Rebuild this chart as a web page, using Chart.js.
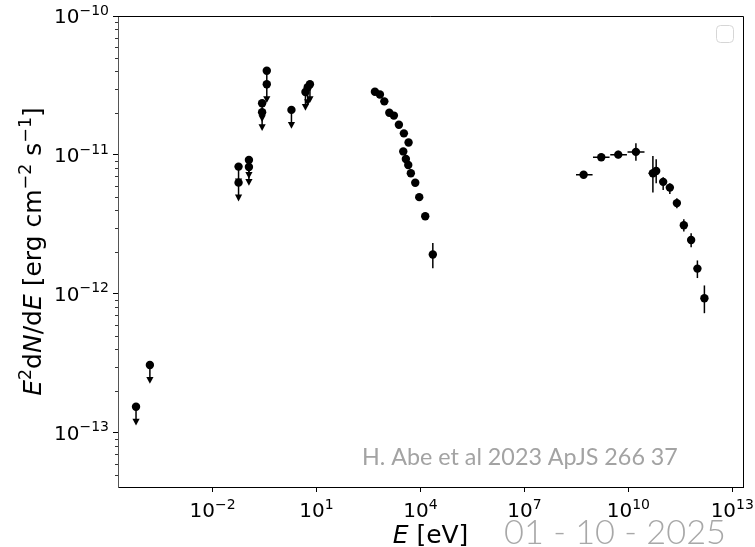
<!DOCTYPE html>
<html>
<head>
<meta charset="utf-8">
<script src="https://cdn.jsdelivr.net/npm/chart.js@4/dist/chart.umd.min.js"></script>
<style>
html,body{margin:0;padding:0;background:#fff;}
#wrap{width:755px;height:547px;}
</style>
</head>
<body>
<div id="wrap"><canvas id="c" width="755" height="547"></canvas></div>
<script>
// ---- data (E in eV, E^2 dN/dE in erg cm^-2 s^-1) ----
const ulEnergy = [6.17e-5, 1.55e-4, 0.0562, 0.0562, 0.112, 0.112, 0.269, 0.269, 0.367, 0.367, 1.89, 4.79, 5.57, 6.46];
const ulFlux   = [1.54e-13, 3.08e-13, 8.24e-12, 6.32e-12, 9.20e-12, 8.20e-12, 2.355e-11, 2.03e-11, 4.04e-11, 3.23e-11, 2.11e-11, 2.84e-11, 3.07e-11, 3.23e-11];
const ulArrowFactor = 0.78;

const xrayEnergy = [485, 676, 906, 1262, 1710, 2388, 3327, 4539, 3192, 3793, 4446, 5284, 7079, 9226, 13740, 22750];
const xrayFlux   = [2.85e-11, 2.72e-11, 2.43e-11, 2.01e-11, 1.92e-11, 1.65e-11, 1.43e-11, 1.23e-11, 1.06e-11, 9.35e-12, 8.47e-12, 7.38e-12, 6.30e-12, 4.97e-12, 3.62e-12, 1.92e-12];
const xrayFluxLo = [null, null, null, null, null, null, null, null, null, null, null, null, null, null, null, 1.53e-12];
const xrayFluxHi = [null, null, null, null, null, null, null, null, null, null, null, null, null, null, null, 2.32e-12];

const gammaEnergy   = [5.12e8, 1.656e9, 5.12e9, 1.656e10, 5.12e10, 6.37e10, 1.014e11, 1.58e11, 2.52e11, 4.0e11, 6.5e11, 9.86e11, 1.57e12];
const gammaEnergyLo = [3.09e8, 9.55e8, 3.01e9, 9.48e9, 3.82e10, null, null, null, null, null, null, null, null];
const gammaEnergyHi = [9.29e8, 2.87e9, 9.12e9, 2.93e10, 6.93e10, null, null, null, null, null, null, null, null];
const gammaFlux   = [7.21e-12, 9.62e-12, 1.005e-11, 1.052e-11, 7.38e-12, 7.67e-12, 6.40e-12, 5.82e-12, 4.50e-12, 3.12e-12, 2.44e-12, 1.52e-12, 9.31e-13];
const gammaFluxLo = [6.95e-12, 9.25e-12, 9.45e-12, 9.10e-12, 5.36e-12, 6.25e-12, 5.60e-12, 5.24e-12, 4.14e-12, 2.81e-12, 2.17e-12, 1.30e-12, 7.26e-13];
const gammaFluxHi = [7.45e-12, 9.95e-12, 1.07e-11, 1.213e-11, 9.84e-12, 9.31e-12, 6.92e-12, 6.25e-12, 4.88e-12, 3.44e-12, 2.73e-12, 1.74e-12, 1.15e-12];

const xTickValues = [1e-2, 1e1, 1e4, 1e7, 1e10, 1e13];
const yTickValues = [1e-13, 1e-12, 1e-11, 1e-10];
const xRange = [Math.pow(10, -4.73), Math.pow(10, 13.31)];
const yRange = [Math.pow(10, -13.39), 1e-10];

const xAxisTitle = [{t:'E', it:true}, {t:' [eV]'}];
const yAxisTitle = [{t:'E', it:true}, {t:'2', sup:true}, {t:'d'}, {t:'N', it:true}, {t:'/d'}, {t:'E', it:true},
                    {t:' [erg cm'}, {t:'\u22122', sup:true}, {t:' s'}, {t:'\u22121', sup:true}, {t:']'}];
const watermark = 'H. Abe et al 2023 ApJS 266 37';
const dateText = '01 - 10 - 2025';

// ---- helpers ----
const FONT = '"DejaVu Sans"';
function toPts(xs, ys){ return xs.map((x,i)=>({x:x, y:ys[i]})); }

function richWidth(ctx, segs, size){
  let w = 0;
  segs.forEach(s=>{
    const fs = s.sup ? size*0.7 : size;
    ctx.font = (s.it?'italic ':'') + fs + 'px ' + FONT;
    w += ctx.measureText(s.t).width;
  });
  return w;
}
function drawRich(ctx, segs, x, y, size, align){
  const w = richWidth(ctx, segs, size);
  let cx = align==='center' ? x - w/2 : (align==='right' ? x - w : x);
  ctx.textAlign = 'left';
  ctx.textBaseline = 'alphabetic';
  segs.forEach(s=>{
    const fs = s.sup ? size*0.7 : size;
    ctx.font = (s.it?'italic ':'') + fs + 'px ' + FONT;
    ctx.fillText(s.t, cx, s.sup ? y - size*0.42 : y);
    cx += ctx.measureText(s.t).width;
  });
}
function expSegs(v){
  const e = Math.round(Math.log10(v));
  return [{t:'10'}, {t:(e<0?'\u2212':'') + Math.abs(e), sup:true}];
}

const decorPlugin = {
  id:'decor',
  beforeDatasetsDraw(chart){
    const ctx = chart.ctx, xs = chart.scales.x, ys = chart.scales.y;
    ctx.save();
    ctx.strokeStyle = '#000';
    ctx.fillStyle = '#000';
    ctx.lineWidth = 1.5;
    // error bars
    function bars(E, F, El, Eh, Fl, Fh){
      E.forEach((e,i)=>{
        const px = xs.getPixelForValue(e), py = ys.getPixelForValue(F[i]);
        ctx.beginPath();
        if (Fl && Fl[i] != null){
          ctx.moveTo(px, ys.getPixelForValue(Fl[i])); ctx.lineTo(px, ys.getPixelForValue(Fh[i]));
        }
        if (El && El[i] != null){
          ctx.moveTo(xs.getPixelForValue(El[i]), py); ctx.lineTo(xs.getPixelForValue(Eh[i]), py);
        }
        ctx.stroke();
      });
    }
    bars(xrayEnergy, xrayFlux, null, null, xrayFluxLo, xrayFluxHi);
    bars(gammaEnergy, gammaFlux, gammaEnergyLo, gammaEnergyHi, gammaFluxLo, gammaFluxHi);
    // upper-limit arrows
    ulEnergy.forEach((e,i)=>{
      const px = xs.getPixelForValue(e);
      const py = ys.getPixelForValue(ulFlux[i]);
      const pe = ys.getPixelForValue(ulFlux[i]*ulArrowFactor);
      ctx.beginPath(); ctx.moveTo(px, py); ctx.lineTo(px, pe); ctx.stroke();
      ctx.beginPath();
      ctx.moveTo(px-3.6, pe-3); ctx.lineTo(px+3.6, pe-3); ctx.lineTo(px, pe+3.8); ctx.closePath(); ctx.fill();
    });
    ctx.restore();
  },
  afterDraw(chart){
    const ctx = chart.ctx, xs = chart.scales.x, ys = chart.scales.y, a = chart.chartArea;
    ctx.save();
    // top & right spines
    ctx.strokeStyle = '#000'; ctx.lineWidth = 1;
    ctx.beginPath();
    ctx.moveTo(a.left, a.top+0.5); ctx.lineTo(a.right+0.5, a.top+0.5); ctx.lineTo(a.right+0.5, a.bottom);
    ctx.stroke();
    // y minor ticks
    ctx.lineWidth = 0.8;
    for (let d=-14; d<=-10; d++){
      for (let m=2; m<=9; m++){
        const v = m*Math.pow(10,d);
        if (v < yRange[0] || v > yRange[1]) continue;
        const py = Math.round(ys.getPixelForValue(v)) + 0.5;
        ctx.beginPath(); ctx.moveTo(a.left-3, py); ctx.lineTo(a.left, py); ctx.stroke();
      }
    }
    // tick labels
    ctx.fillStyle = '#000';
    xs.ticks.forEach(t=>{
      const px = xs.getPixelForValue(t.value);
      drawRich(ctx, expSegs(t.value), px, 517, 20, 'center');
    });
    ys.ticks.forEach(t=>{
      const py = ys.getPixelForValue(t.value);
      drawRich(ctx, expSegs(t.value), a.left-9, py+7, 20, 'right');
    });
    // axis titles
    drawRich(ctx, xAxisTitle, (a.left+a.right)/2, 543, 25, 'center');
    ctx.save();
    ctx.translate(41, (a.top+a.bottom)/2);
    ctx.rotate(-Math.PI/2);
    drawRich(ctx, yAxisTitle, 0, 0, 25, 'center');
    ctx.restore();
    // empty legend frame
    ctx.strokeStyle = '#d6d6d6'; ctx.lineWidth = 1; ctx.fillStyle = 'rgba(255,255,255,0.8)';
    ctx.beginPath();
    ctx.roundRect(716.5, 25.5, 17, 17, 4);
    ctx.fill(); ctx.stroke();
    // watermark
    ctx.fillStyle = '#a3a3a3';
    ctx.textAlign = 'left'; ctx.textBaseline = 'alphabetic';
    let fs = 23;
    ctx.font = '400 ' + fs + 'px Lato';
    fs = fs * 316 / ctx.measureText(watermark).width;
    ctx.font = '400 ' + fs + 'px Lato';
    ctx.fillText(watermark, 362, 465);
    // date
    ctx.fillStyle = '#a8a8a8';
    let ds = 40;
    ctx.font = '300 ' + ds + 'px Lato';
    ds = ds * 222 / ctx.measureText(dateText).width;
    ctx.font = '300 ' + ds + 'px Lato';
    ctx.fillText(dateText, 504, 544);
    ctx.restore();
  }
};

const pointStyle = {pointRadius:4.2, pointHoverRadius:4.2, pointBackgroundColor:'#000', pointBorderWidth:0, showLine:false};

new Chart(document.getElementById('c'), {
  type:'scatter',
  data:{
    datasets:[
      Object.assign({label:'upper limits', data: toPts(ulEnergy, ulFlux)}, pointStyle),
      Object.assign({label:'X-ray', data: toPts(xrayEnergy, xrayFlux)}, pointStyle),
      Object.assign({label:'gamma', data: toPts(gammaEnergy, gammaFlux)}, pointStyle)
    ]
  },
  options:{
    responsive:false,
    animation:false,
    devicePixelRatio:1,
    layout:{padding:{left:0, top:16, right:12, bottom:0}},
    plugins:{legend:{display:false}, tooltip:{enabled:false}},
    scales:{
      x:{
        type:'logarithmic', min:xRange[0], max:xRange[1],
        afterBuildTicks(s){ s.ticks = xTickValues.map(v=>({value:v})); },
        afterFit(s){ s.height = 60; },
        grid:{display:true, drawOnChartArea:false, drawTicks:true, tickLength:5, color:'#000', lineWidth:1},
        border:{display:true, color:'#000', width:1},
        ticks:{display:false}
      },
      y:{
        type:'logarithmic', min:yRange[0], max:yRange[1],
        afterBuildTicks(s){ s.ticks = yTickValues.map(v=>({value:v})); },
        afterFit(s){ s.width = 118; },
        grid:{display:true, drawOnChartArea:false, drawTicks:true, tickLength:5, color:'#000', lineWidth:1},
        border:{display:true, color:'#555', width:1},
        ticks:{display:false}
      }
    }
  },
  plugins:[decorPlugin]
});
</script>
</body>
</html>
